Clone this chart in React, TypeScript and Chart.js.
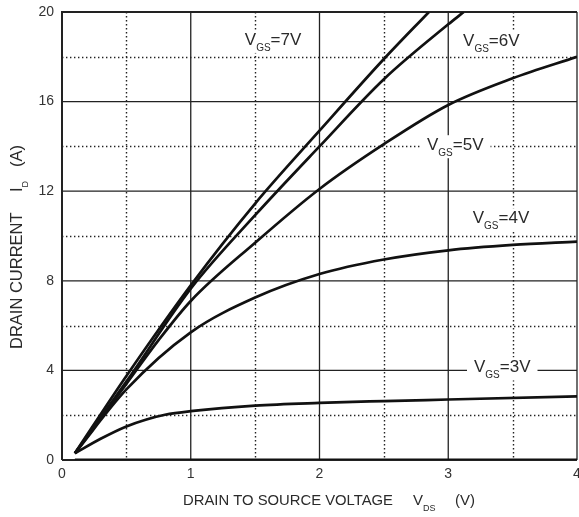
import React, { useEffect, useRef } from "react";
import { Chart, registerables } from "chart.js";

Chart.register(...registerables);

// Drain-source voltage (V) and drain current (A) per gate voltage curve
const vds7 = [0.1, 0.5, 1, 1.5, 2, 2.5, 2.85];
const id7 = [0.3, 3.75, 7.8, 11.45, 14.7, 17.9, 20];
const vds6 = [0.1, 0.5, 1, 1.5, 2, 2.5, 3, 3.12];
const id6 = [0.3, 3.5, 7.65, 10.93, 14, 17.0, 19.45, 20];
const vds5 = [0.1, 0.5, 0.75, 1, 1.5, 2, 2.5, 3, 3.5, 4];
const id5 = [0.3, 3.4, 5.35, 7.1, 9.7, 12.1, 14.1, 15.85, 17.04, 18];
const vds4 = [0.1, 0.5, 1, 1.5, 2, 2.5, 3, 3.5, 4];
const id4 = [0.3, 3.15, 5.7, 7.25, 8.3, 8.95, 9.36, 9.6, 9.75];
const vds3 = [0.1, 0.3, 0.5, 0.65, 0.8, 1, 1.5, 2, 2.5, 3, 4];
const id3 = [0.3, 0.95, 1.5, 1.8, 2.02, 2.18, 2.43, 2.55, 2.63, 2.7, 2.84];
const vds2 = [0.1, 4];
const id2 = [0, 0];

// Curve labels (gate voltage) and their anchor in data units
const labelText = ["7V", "6V", "5V", "4V", "3V"];
const labelX = [1.42, 3.115, 2.835, 3.19, 3.2];
const labelY = [18.53, 18.48, 13.83, 10.57, 3.91];

// Axis ticks
const xTicks = [0, 1, 2, 3, 4];
const xMinorGrid = [0.5, 1.5, 2.5, 3.5];
const yMinorGrid = [2, 6, 10, 14, 18];
const yMajorGrid = [4, 8, 12, 16];

const FONT = '"Liberation Sans", Arial, sans-serif';
const TEXT = "#2a2a2a";

const pts = (xs: number[], ys: number[]) => xs.map((x, i) => ({ x, y: ys[i] }));

function drawSub(
  ctx: CanvasRenderingContext2D,
  x: number,
  y: number,
  main: string,
  sub: string,
  rest: string,
  size: number,
  subSize: number,
  subDrop: number
) {
  ctx.font = `${size}px ${FONT}`;
  ctx.fillText(main, x, y);
  let cx = x + ctx.measureText(main).width;
  ctx.font = `${subSize}px ${FONT}`;
  ctx.fillText(sub, cx, y + subDrop);
  cx += ctx.measureText(sub).width;
  ctx.font = `${size}px ${FONT}`;
  ctx.fillText(rest, cx, y);
  return cx + ctx.measureText(rest).width;
}

const decor = {
  id: "decor",
  beforeDatasetsDraw(chart: any) {
    const { ctx, chartArea: a } = chart;
    const xs = chart.scales.x;
    const ys = chart.scales.y;
    ctx.save();
    ctx.strokeStyle = "#222";
    // dotted minor grid
    ctx.setLineDash([1.4, 2.6]);
    ctx.lineWidth = 1.4;
    xMinorGrid.forEach((v) => {
      const p = Math.round(xs.getPixelForValue(v)) + 0.5;
      ctx.beginPath();
      ctx.moveTo(p, a.top);
      ctx.lineTo(p, a.bottom);
      ctx.stroke();
    });
    yMinorGrid.forEach((v) => {
      const p = Math.round(ys.getPixelForValue(v)) + 0.5;
      ctx.beginPath();
      ctx.moveTo(a.left, p);
      ctx.lineTo(a.right, p);
      ctx.stroke();
    });
    // solid major grid
    ctx.setLineDash([]);
    ctx.lineWidth = 1.3;
    xTicks.slice(1).forEach((v) => {
      const p = xs.getPixelForValue(v);
      ctx.beginPath();
      ctx.moveTo(p, a.top);
      ctx.lineTo(p, a.bottom);
      ctx.stroke();
    });
    yMajorGrid.forEach((v) => {
      const p = ys.getPixelForValue(v);
      ctx.beginPath();
      ctx.moveTo(a.left, p);
      ctx.lineTo(a.right, p);
      ctx.stroke();
    });
    // frame lines
    ctx.lineWidth = 2;
    const x0 = xs.getPixelForValue(0);
    const yT = ys.getPixelForValue(20);
    const yB = ys.getPixelForValue(0);
    ctx.beginPath();
    ctx.moveTo(x0, yB);
    ctx.lineTo(x0, yT);
    ctx.lineTo(a.right, yT);
    ctx.moveTo(x0, yB);
    ctx.lineTo(a.right, yB);
    ctx.stroke();
    ctx.restore();
  },
  afterDatasetsDraw(chart: any) {
    const { ctx } = chart;
    const xs = chart.scales.x;
    const ys = chart.scales.y;
    ctx.save();
    ctx.textBaseline = "alphabetic";
    ctx.textAlign = "left";
    labelText.forEach((t, i) => {
      const px = xs.getPixelForValue(labelX[i]);
      const py = ys.getPixelForValue(labelY[i]);
      ctx.font = `17px ${FONT}`;
      const w1 = ctx.measureText("V").width;
      const w3 = ctx.measureText("=" + t).width;
      ctx.font = `10px ${FONT}`;
      const w2 = ctx.measureText("GS").width;
      ctx.fillStyle = "#fff";
      ctx.fillRect(px - 7, py - 15, w1 + w2 + w3 + 14, 23);
      ctx.fillStyle = TEXT;
      drawSub(ctx, px, py, "V", "GS", "=" + t, 17, 10, 6);
    });
    ctx.restore();
  },
  afterDraw(chart: any) {
    const { ctx } = chart;
    ctx.save();
    ctx.fillStyle = TEXT;
    ctx.textBaseline = "alphabetic";
    ctx.textAlign = "left";
    // x axis title
    ctx.font = `15px ${FONT}`;
    ctx.fillText("DRAIN TO SOURCE VOLTAGE", 183, 505, 210);
    drawSub(ctx, 413, 505, "V", "DS", "", 15, 9, 6);
    ctx.font = `15px ${FONT}`;
    ctx.fillText("(V)", 455, 505);
    // y axis title
    ctx.translate(22, 349);
    ctx.rotate(-Math.PI / 2);
    ctx.font = `16.5px ${FONT}`;
    ctx.fillText("DRAIN CURRENT", 0, 0, 140);
    drawSub(ctx, 157, 0, "I", "D", "", 16.5, 9, 6);
    ctx.font = `16.5px ${FONT}`;
    ctx.fillText("(A)", 182, 0);
    ctx.restore();
  },
};

export default function App() {
  const ref = useRef<HTMLCanvasElement | null>(null);
  useEffect(() => {
    if (!ref.current) return;
    const line = (data: { x: number; y: number }[], w = 2.7) => ({
      data,
      borderColor: "#111",
      borderWidth: w,
      pointRadius: 0,
      fill: false,
      cubicInterpolationMode: "monotone" as const,
    });
    const chart = new Chart(ref.current, {
      type: "line",
      data: {
        datasets: [
          line(pts(vds7, id7)),
          line(pts(vds6, id6)),
          line(pts(vds5, id5)),
          line(pts(vds4, id4)),
          line(pts(vds3, id3)),
          line(pts(vds2, id2), 3),
        ],
      },
      options: {
        responsive: false,
        animation: false,
        devicePixelRatio: 1,
        layout: { padding: { left: 0, right: 2, top: 12, bottom: 0 } },
        plugins: { legend: { display: false }, tooltip: { enabled: false } },
        scales: {
          x: {
            type: "linear",
            min: 0,
            max: 4,
            grid: { display: false, drawTicks: false },
            border: { display: false },
            afterFit: (s: any) => {
              s.height = 57;
              s.paddingLeft = 0;
              s.paddingRight = 0;
            },
            ticks: {
              stepSize: 1,
              padding: 6,
              color: "#333",
              font: { family: FONT, size: 14 },
            },
          },
          y: {
            type: "linear",
            min: 0,
            max: 20,
            grid: { display: false, drawTicks: false },
            border: { display: false },
            afterFit: (s: any) => {
              s.width = 62;
              s.paddingTop = 0;
              s.paddingBottom = 0;
            },
            ticks: {
              stepSize: 4,
              padding: 8,
              color: "#333",
              font: { family: FONT, size: 14 },
            },
          },
        },
      },
      plugins: [decor],
    });
    return () => chart.destroy();
  }, []);
  return (
    <div style={{ position: "absolute", left: 0, top: 0, width: 579, height: 517, background: "#fff" }}>
      <canvas ref={ref} width={579} height={517} />
    </div>
  );
}
